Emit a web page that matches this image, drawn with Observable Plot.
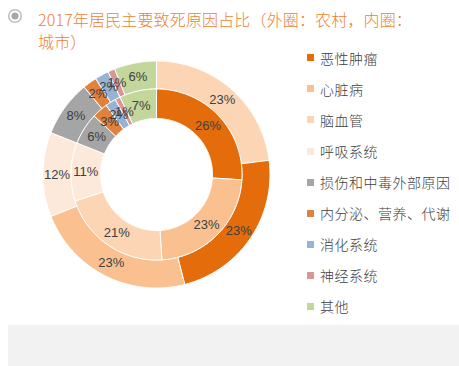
<!DOCTYPE html>
<html><head><meta charset="utf-8">
<script src="https://cdn.jsdelivr.net/npm/d3@7"></script>
<script src="https://cdn.jsdelivr.net/npm/@observablehq/plot@0.6"></script>
<style>
body{margin:0;background:#fff;}
#wrap{position:relative;width:459px;height:366px;overflow:hidden;font-family:"Noto Sans CJK SC",sans-serif;}
#icon{position:absolute;left:7px;top:8px;}
#title{position:absolute;left:38px;top:8px;font-size:16px;font-weight:300;line-height:22px;letter-spacing:0.15px;color:#EC7F33;white-space:nowrap;}
#legend{position:absolute;left:307px;top:0;}
.li{position:absolute;left:0;white-space:nowrap;font-size:14px;font-weight:300;letter-spacing:0.5px;color:#404040;line-height:16px;}
.sw{display:inline-block;width:7px;height:7px;margin-right:6px;vertical-align:middle;position:relative;top:-2px;}
#foot{position:absolute;left:8px;top:325px;width:451px;height:41px;background:#F2F2F2;}
#chart{position:absolute;left:35.5px;top:54px;}
</style></head><body>
<div id="wrap">
  <svg id="icon" width="16" height="16"><circle cx="8" cy="8" r="6.3" fill="none" stroke="#BFBFBF" stroke-width="1.6"/><circle cx="8" cy="8" r="3.6" fill="#A6A6A6"/></svg>
  <div id="title">2017年居民主要致死原因占比（外圈：农村，内圈：<br>城市）</div>
  <div id="legend"></div>
  <div id="chart"></div>
  <div id="foot"></div>
</div>
<script>
// categories (legend order) and their colours
const categories = ["恶性肿瘤","心脏病","脑血管","呼吸系统","损伤和中毒外部原因","内分泌、营养、代谢","消化系统","神经系统","其他"];
const categoryColors = ["#E46C0A","#FAC090","#FCD5B5","#FDE9D9","#A5A5A5","#E0823D","#95B3D7","#D99694","#C3D69B"];

// outer ring: rural (clockwise from 12 o'clock, as drawn)
const ruralCategories = ["脑血管","恶性肿瘤","心脏病","呼吸系统","损伤和中毒外部原因","内分泌、营养、代谢","消化系统","神经系统","其他"];
const ruralValues = [23,23,23,12,8,2,2,1,6];

// inner ring: urban (clockwise from 12 o'clock)
const urbanCategories = ["恶性肿瘤","心脏病","脑血管","呼吸系统","损伤和中毒外部原因","内分泌、营养、代谢","消化系统","神经系统","其他"];
const urbanValues = [26,23,21,11,6,3,2,1,7];

const colorOf = c => categoryColors[categories.indexOf(c)];

// ring radii (in chart units)
const R_HOLE = 56, R_MID = 85.5, R_OUT = 113.5;

function ring(name, cats, vals, r0, r1) {
  const total = d3.sum(vals);
  const pts = [], labels = [];
  let acc = 0;
  cats.forEach((c, i) => {
    const a0 = acc / total * 2 * Math.PI;
    acc += vals[i];
    const a1 = acc / total * 2 * Math.PI;
    const n = Math.max(2, Math.ceil((a1 - a0) / (Math.PI / 180)));
    const key = name + i;
    const col = colorOf(c);
    const poly = [];
    for (let k = 0; k <= n; k++) { const a = a0 + (a1 - a0) * k / n; poly.push([r1 * Math.sin(a), r1 * Math.cos(a)]); }
    for (let k = n; k >= 0; k--) { const a = a0 + (a1 - a0) * k / n; poly.push([r0 * Math.sin(a), r0 * Math.cos(a)]); }
    poly.push(poly[0]);
    poly.forEach(([x, y]) => pts.push({key, color: col, x, y}));
    const am = (a0 + a1) / 2, rm = (r0 + r1) / 2;
    labels.push({x: rm * Math.sin(am), y: rm * Math.cos(am), text: vals[i] + "%"});
  });
  return {pts, labels};
}

const outer = ring("o", ruralCategories, ruralValues, R_MID, R_OUT);
const inner = ring("i", urbanCategories, urbanValues, R_HOLE, R_MID);

const chart = Plot.plot({
  width: 240, height: 240, margin: 0,
  x: {domain: [-120, 120], axis: null},
  y: {domain: [-120, 120], axis: null},
  color: {type: "identity"},
  style: {background: "transparent", overflow: "visible"},
  marks: [
    Plot.line(outer.pts, {x: "x", y: "y", z: "key", fill: "color", stroke: "white", strokeWidth: 1, curve: "linear"}),
    Plot.line(inner.pts, {x: "x", y: "y", z: "key", fill: "color", stroke: "white", strokeWidth: 1, curve: "linear"}),
    Plot.text(outer.labels.concat(inner.labels), {x: "x", y: "y", text: "text", fontSize: 13, fontFamily: "Liberation Sans", fill: "#404040"})
  ]
});
document.getElementById("chart").appendChild(chart);

// legend
const legend = document.getElementById("legend");
categories.forEach((c, i) => {
  const d = document.createElement("div");
  d.className = "li";
  d.style.top = (49.5 + i * 31.1) + "px";
  d.innerHTML = `<span class="sw" style="background:${categoryColors[i]}"></span>${c}`;
  legend.appendChild(d);
});
</script>
</body></html>
